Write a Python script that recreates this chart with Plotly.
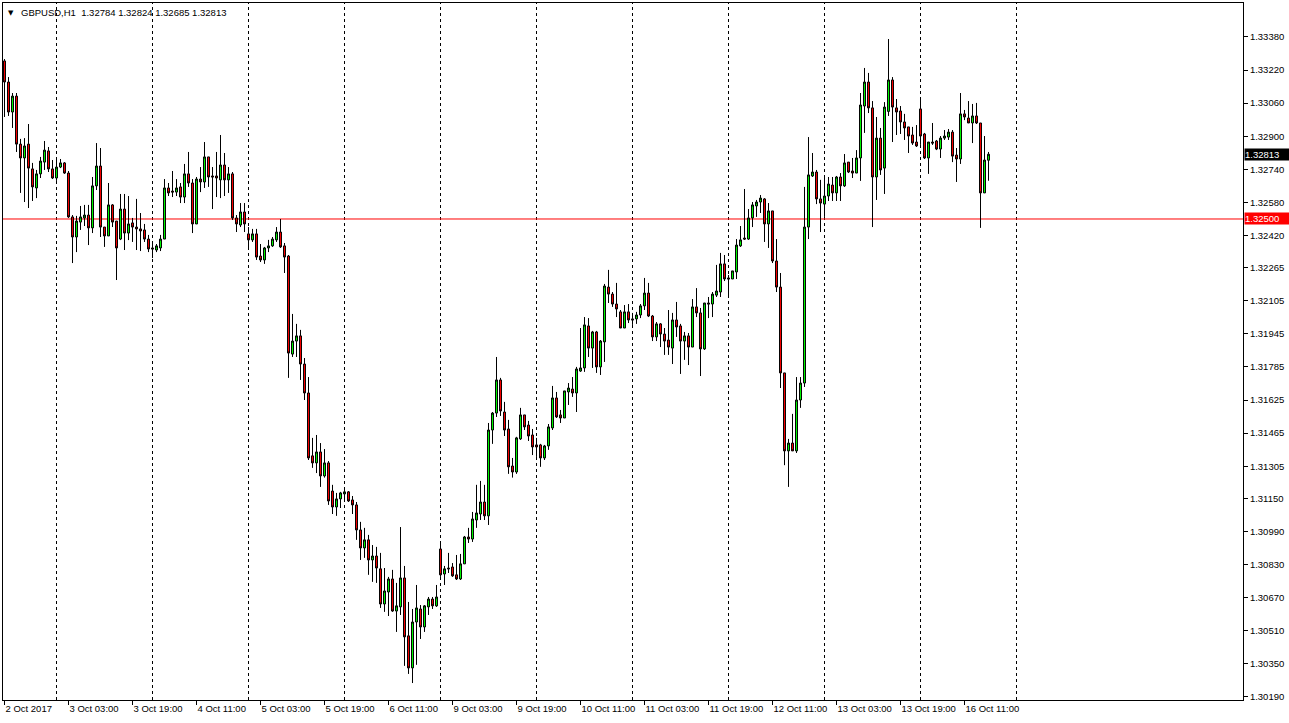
import plotly.graph_objects as go

# ---------------- data (GBPUSD H1, 2 Oct 2017 11:00 .. 16 Oct 2017 17:00) ----------------
days = ["2 Oct", "3 Oct", "4 Oct", "5 Oct", "6 Oct", "9 Oct", "10 Oct",
        "11 Oct", "12 Oct", "13 Oct", "16 Oct", "17 Oct"]
first_hour = 11

opens = [
    1.33264, 1.33162, 1.33017, 1.33094, 1.32862, 1.32795, 1.32862, 1.32742, 1.32650, 1.32718,
    1.32775, 1.32829, 1.32742, 1.32698, 1.32751, 1.32771, 1.32722, 1.32510, 1.32413, 1.32485,
    1.32505, 1.32519, 1.32457, 1.32660, 1.32756, 1.32461, 1.32418, 1.32568, 1.32490, 1.32403,
    1.32548, 1.32432, 1.32481, 1.32461, 1.32452, 1.32447, 1.32403, 1.32360, 1.32350, 1.32360,
    1.32403, 1.32650, 1.32635, 1.32630, 1.32655, 1.32606, 1.32718, 1.32674, 1.32476, 1.32693,
    1.32679, 1.32800, 1.32708, 1.32708, 1.32689, 1.32761, 1.32689, 1.32718, 1.32505, 1.32471,
    1.32534, 1.32428, 1.32399, 1.32428, 1.32321, 1.32302, 1.32360, 1.32370, 1.32399, 1.32437,
    1.32370, 1.32321, 1.31847, 1.31910, 1.31935, 1.31799, 1.31659, 1.31355, 1.31321, 1.31374,
    1.31258, 1.31321, 1.31185, 1.31108, 1.31147, 1.31171, 1.31181, 1.31142, 1.31118, 1.30997,
    1.30910, 1.30949, 1.30852, 1.30871, 1.30809, 1.30639, 1.30697, 1.30760, 1.30605, 1.30625,
    1.30765, 1.30485, 1.30330, 1.30552, 1.30615, 1.30528, 1.30625, 1.30663, 1.30630, 1.30905,
    1.30784, 1.30813, 1.30818, 1.30780, 1.30760, 1.30833, 1.30963, 1.30953, 1.31045, 1.31074,
    1.31132, 1.31065, 1.31480, 1.31562, 1.31722, 1.31567, 1.31485, 1.31306, 1.31277, 1.31437,
    1.31553, 1.31504, 1.31456, 1.31408, 1.31408, 1.31345, 1.31403, 1.31490, 1.31635, 1.31553,
    1.31538, 1.31664, 1.31678, 1.31659, 1.31765, 1.31780, 1.31983, 1.31876, 1.31954, 1.31785,
    1.31906, 1.32171, 1.32137, 1.32089, 1.32051, 1.31973, 1.32051, 1.32017, 1.32017, 1.32036,
    1.32080, 1.32142, 1.32031, 1.31930, 1.31993, 1.31944, 1.31915, 1.31876, 1.32012, 1.31983,
    1.31910, 1.31935, 1.31881, 1.32075, 1.32046, 1.31872, 1.32094, 1.32089, 1.32132, 1.32147,
    1.32283, 1.32215, 1.32210, 1.32244, 1.32370, 1.32408, 1.32403, 1.32505, 1.32563, 1.32582,
    1.32597, 1.32476, 1.32539, 1.32297, 1.32171, 1.31756, 1.31379, 1.31417, 1.31379, 1.31625,
    1.31707, 1.32461, 1.32708, 1.32727, 1.32597, 1.32572, 1.32611, 1.32664, 1.32626, 1.32703,
    1.32660, 1.32775, 1.32732, 1.32722, 1.32795, 1.33046, 1.33162, 1.33037, 1.32703, 1.32891,
    1.32746, 1.33020, 1.33172, 1.33037, 1.33022, 1.32969, 1.32945, 1.32906, 1.32872, 1.33032,
    1.32911, 1.32795, 1.32872, 1.32877, 1.32838, 1.32891, 1.32896, 1.32920, 1.32809, 1.32790,
    1.33008, 1.32988, 1.32964, 1.32998, 1.32964, 1.32626, 1.32784,
]
highs = [
    1.33273, 1.33186, 1.33109, 1.33109, 1.32887, 1.32891, 1.32959, 1.32771, 1.32737, 1.32800,
    1.32877, 1.32848, 1.32785, 1.32795, 1.32790, 1.32775, 1.32732, 1.32519, 1.32515, 1.32563,
    1.32568, 1.32568, 1.32703, 1.32867, 1.32843, 1.32461, 1.32674, 1.32572, 1.32490, 1.32621,
    1.32621, 1.32611, 1.32505, 1.32597, 1.32529, 1.32476, 1.32423, 1.32379, 1.32379, 1.32423,
    1.32693, 1.32674, 1.32732, 1.32693, 1.32674, 1.32766, 1.32824, 1.32693, 1.32703, 1.32751,
    1.32872, 1.32800, 1.32751, 1.32824, 1.32906, 1.32819, 1.32751, 1.32727, 1.32519, 1.32577,
    1.32577, 1.32461, 1.32452, 1.32452, 1.32379, 1.32365, 1.32399, 1.32413, 1.32461, 1.32500,
    1.32384, 1.32326, 1.32041, 1.31993, 1.31964, 1.31828, 1.31736, 1.31442, 1.31456, 1.31417,
    1.31388, 1.31330, 1.31215, 1.31176, 1.31181, 1.31200, 1.31185, 1.31161, 1.31132, 1.31036,
    1.31007, 1.30973, 1.30924, 1.30915, 1.30886, 1.30813, 1.30770, 1.30804, 1.30741, 1.31011,
    1.30823, 1.30649, 1.30615, 1.30731, 1.30634, 1.30634, 1.30673, 1.30673, 1.30731, 1.30934,
    1.30823, 1.30886, 1.30837, 1.30876, 1.30881, 1.30968, 1.31007, 1.31084, 1.31215, 1.31234,
    1.31215, 1.31514, 1.31567, 1.31833, 1.31732, 1.31616, 1.31529, 1.31345, 1.31447, 1.31587,
    1.31553, 1.31524, 1.31485, 1.31442, 1.31413, 1.31408, 1.31509, 1.31693, 1.31664, 1.31577,
    1.31669, 1.31707, 1.31736, 1.31785, 1.31973, 1.32026, 1.32021, 1.31959, 1.31959, 1.31915,
    1.32186, 1.32254, 1.32147, 1.32191, 1.32060, 1.32084, 1.32089, 1.32046, 1.32051, 1.32089,
    1.32215, 1.32191, 1.32036, 1.32002, 1.31997, 1.31973, 1.32060, 1.32046, 1.32099, 1.31993,
    1.31954, 1.31949, 1.32113, 1.32166, 1.32070, 1.32094, 1.32123, 1.32147, 1.32278, 1.32336,
    1.32326, 1.32229, 1.32249, 1.32403, 1.32466, 1.32645, 1.32548, 1.32582, 1.32592, 1.32616,
    1.32601, 1.32577, 1.32539, 1.32403, 1.32239, 1.31756, 1.31437, 1.31558, 1.31736, 1.31736,
    1.32655, 1.32896, 1.32819, 1.32737, 1.32689, 1.32703, 1.32703, 1.32703, 1.32708, 1.32722,
    1.32814, 1.32775, 1.32795, 1.32833, 1.33109, 1.33230, 1.33206, 1.33070, 1.32993, 1.32940,
    1.33065, 1.33370, 1.33186, 1.33080, 1.33046, 1.33008, 1.32945, 1.32945, 1.32954, 1.33075,
    1.32916, 1.32872, 1.32964, 1.32882, 1.32901, 1.32930, 1.32935, 1.32930, 1.32843, 1.33109,
    1.33027, 1.33070, 1.33056, 1.33061, 1.32964, 1.32901, 1.32824,
]
lows = [
    1.32993, 1.32998, 1.32940, 1.32824, 1.32626, 1.32582, 1.32553, 1.32587, 1.32601, 1.32698,
    1.32737, 1.32727, 1.32693, 1.32684, 1.32746, 1.32718, 1.32505, 1.32287, 1.32340, 1.32447,
    1.32466, 1.32374, 1.32432, 1.32640, 1.32413, 1.32365, 1.32418, 1.32461, 1.32205, 1.32398,
    1.32350, 1.32398, 1.32389, 1.32350, 1.32345, 1.32389, 1.32340, 1.32311, 1.32340, 1.32345,
    1.32403, 1.32611, 1.32606, 1.32611, 1.32577, 1.32577, 1.32655, 1.32432, 1.32476, 1.32630,
    1.32650, 1.32655, 1.32548, 1.32606, 1.32601, 1.32611, 1.32626, 1.32495, 1.32437, 1.32461,
    1.32437, 1.32360, 1.32389, 1.32302, 1.32292, 1.32283, 1.32340, 1.32365, 1.32389, 1.32360,
    1.32239, 1.31732, 1.31833, 1.31833, 1.31722, 1.31625, 1.31335, 1.31297, 1.31272, 1.31205,
    1.31250, 1.31118, 1.31074, 1.31065, 1.31103, 1.31142, 1.31132, 1.31074, 1.30949, 1.30852,
    1.30862, 1.30780, 1.30746, 1.30741, 1.30620, 1.30601, 1.30581, 1.30601, 1.30504, 1.30586,
    1.30340, 1.30301, 1.30257, 1.30345, 1.30470, 1.30504, 1.30586, 1.30615, 1.30625, 1.30770,
    1.30731, 1.30789, 1.30770, 1.30755, 1.30755, 1.30833, 1.30934, 1.30939, 1.31007, 1.31045,
    1.31045, 1.31021, 1.31413, 1.31543, 1.31548, 1.31451, 1.31268, 1.31250, 1.31268, 1.31432,
    1.31480, 1.31427, 1.31359, 1.31350, 1.31302, 1.31335, 1.31384, 1.31480, 1.31538, 1.31514,
    1.31538, 1.31601, 1.31640, 1.31567, 1.31761, 1.31761, 1.31833, 1.31780, 1.31756, 1.31746,
    1.31809, 1.32094, 1.32075, 1.32026, 1.31973, 1.31973, 1.31997, 1.31988, 1.31993, 1.32021,
    1.32060, 1.32026, 1.31910, 1.31910, 1.31881, 1.31843, 1.31843, 1.31799, 1.31930, 1.31751,
    1.31819, 1.31794, 1.31881, 1.32026, 1.31741, 1.31867, 1.32021, 1.32026, 1.32123, 1.32123,
    1.32200, 1.32132, 1.32210, 1.32210, 1.32365, 1.32399, 1.32399, 1.32461, 1.32510, 1.32529,
    1.32389, 1.32360, 1.32287, 1.32147, 1.31683, 1.31310, 1.31205, 1.31379, 1.31369, 1.31587,
    1.31688, 1.32403, 1.32703, 1.32572, 1.32437, 1.32510, 1.32587, 1.32587, 1.32587, 1.32587,
    1.32655, 1.32722, 1.32698, 1.32722, 1.32684, 1.32916, 1.33012, 1.32461, 1.32592, 1.32713,
    1.32621, 1.32998, 1.32872, 1.32906, 1.32911, 1.32882, 1.32819, 1.32858, 1.32848, 1.32858,
    1.32790, 1.32718, 1.32858, 1.32833, 1.32795, 1.32882, 1.32882, 1.32775, 1.32679, 1.32766,
    1.32978, 1.32964, 1.32867, 1.32959, 1.32457, 1.32626, 1.32685,
]
closes = [
    1.33162, 1.33017, 1.33094, 1.32862, 1.32795, 1.32853, 1.32746, 1.32655, 1.32718, 1.32780,
    1.32833, 1.32742, 1.32698, 1.32751, 1.32771, 1.32722, 1.32510, 1.32413, 1.32490, 1.32510,
    1.32519, 1.32457, 1.32660, 1.32756, 1.32461, 1.32418, 1.32568, 1.32485, 1.32360, 1.32548,
    1.32432, 1.32476, 1.32461, 1.32452, 1.32442, 1.32403, 1.32355, 1.32355, 1.32370, 1.32403,
    1.32650, 1.32626, 1.32630, 1.32650, 1.32606, 1.32718, 1.32674, 1.32476, 1.32693, 1.32679,
    1.32800, 1.32703, 1.32703, 1.32698, 1.32761, 1.32689, 1.32718, 1.32505, 1.32476, 1.32534,
    1.32476, 1.32399, 1.32428, 1.32316, 1.32302, 1.32360, 1.32370, 1.32403, 1.32437, 1.32365,
    1.32316, 1.31852, 1.31910, 1.31935, 1.31799, 1.31659, 1.31345, 1.31321, 1.31374, 1.31258,
    1.31321, 1.31137, 1.31108, 1.31147, 1.31176, 1.31181, 1.31137, 1.31118, 1.30997, 1.30910,
    1.30949, 1.30852, 1.30871, 1.30813, 1.30639, 1.30702, 1.30760, 1.30605, 1.30630, 1.30765,
    1.30480, 1.30330, 1.30552, 1.30620, 1.30528, 1.30630, 1.30663, 1.30630, 1.30673, 1.30780,
    1.30809, 1.30809, 1.30775, 1.30760, 1.30833, 1.30963, 1.30953, 1.31050, 1.31079, 1.31132,
    1.31065, 1.31480, 1.31562, 1.31722, 1.31572, 1.31480, 1.31302, 1.31277, 1.31442, 1.31553,
    1.31495, 1.31451, 1.31398, 1.31398, 1.31345, 1.31403, 1.31495, 1.31635, 1.31543, 1.31538,
    1.31669, 1.31683, 1.31659, 1.31775, 1.31780, 1.31988, 1.31876, 1.31954, 1.31785, 1.31910,
    1.32176, 1.32137, 1.32089, 1.32065, 1.31973, 1.32051, 1.32012, 1.32012, 1.32036, 1.32080,
    1.32142, 1.32031, 1.31930, 1.31993, 1.31944, 1.31910, 1.31881, 1.32012, 1.31978, 1.31910,
    1.31935, 1.31881, 1.32075, 1.32046, 1.31872, 1.32094, 1.32089, 1.32137, 1.32152, 1.32283,
    1.32210, 1.32210, 1.32249, 1.32374, 1.32399, 1.32403, 1.32505, 1.32568, 1.32582, 1.32601,
    1.32476, 1.32539, 1.32297, 1.32171, 1.31756, 1.31379, 1.31417, 1.31379, 1.31625, 1.31707,
    1.32461, 1.32713, 1.32727, 1.32597, 1.32577, 1.32611, 1.32669, 1.32626, 1.32703, 1.32660,
    1.32771, 1.32727, 1.32722, 1.32795, 1.33051, 1.33162, 1.33037, 1.32703, 1.32891, 1.32737,
    1.33041, 1.33172, 1.33041, 1.33017, 1.32969, 1.32940, 1.32901, 1.32867, 1.32853, 1.32901,
    1.32795, 1.32872, 1.32867, 1.32838, 1.32891, 1.32901, 1.32920, 1.32804, 1.32790, 1.33008,
    1.32993, 1.32964, 1.32998, 1.32964, 1.32626, 1.32785, 1.32813,
]

price_ticks = [1.33380, 1.33220, 1.33060, 1.32900, 1.32740, 1.32580, 1.32420, 1.32265,
               1.32105, 1.31945, 1.31785, 1.31625, 1.31465, 1.31305, 1.31150, 1.30990,
               1.30830, 1.30670, 1.30510, 1.30350, 1.30190]
hline_level = 1.32500
symbol_title = "GBPUSD,H1"
first_label = "2 Oct 2017"
label_every = 16

# ---------------- bar timeline ----------------
n = len(opens)
times = []
d, h = 0, first_hour
for i in range(n + 24):
    times.append((days[d], h))
    h += 1
    if h == 24:
        h = 0
        d += 1
idx = list(range(n))

separators = [i for i in range(1, n + 24) if times[i][1] == 0]
separators = [s for s in separators if s <= n + 10]

tick_idx = list(range(0, n, label_every))
tick_txt = [first_label if i == 0 else f"{times[i][0]} {times[i][1]:02d}:00" for i in tick_idx]

FONT = "Liberation Sans, Arial, sans-serif"

fig = go.Figure()
fig.add_trace(go.Candlestick(
    x=idx, open=opens, high=highs, low=lows, close=closes,
    increasing=dict(line=dict(color="black", width=1), fillcolor="#00FF00"),
    decreasing=dict(line=dict(color="black", width=1), fillcolor="#FF0000"),
    whiskerwidth=0, hoverinfo="skip", showlegend=False,
))

shapes = []
for s in separators:
    shapes.append(dict(type="line", xref="x", yref="paper", x0=s, x1=s, y0=0, y1=1,
                       line=dict(color="black", width=1, dash="3px,3px"), layer="below"))
shapes.append(dict(type="line", xref="paper", yref="y", x0=0, x1=1, y0=hline_level, y1=hline_level,
                   line=dict(color="#FF0000", width=1), layer="below"))

last = opens[-1], highs[-1], lows[-1], closes[-1]
annotations = [
    dict(xref="paper", yref="paper", x=0, y=1, xanchor="left", yanchor="top",
         xshift=3, yshift=-4, text="▼", showarrow=False,
         font=dict(family="DejaVu Sans", size=7, color="black")),
    dict(xref="paper", yref="paper", x=0, y=1, xanchor="left", yanchor="top",
         xshift=16, yshift=-2,
         text=f"{symbol_title}  {last[0]:.5f} {last[1]:.5f} {last[2]:.5f} {last[3]:.5f}",
         showarrow=False, font=dict(family=FONT, size=9.5, color="black")),
    dict(xref="paper", yref="y", x=1, y=closes[-1], xanchor="left", yanchor="middle",
         xshift=1, text=f"{closes[-1]:.5f}", showarrow=False, bgcolor="black",
         width=44, height=11, align="left", borderpad=0,
         font=dict(family=FONT, size=9.5, color="white")),
    dict(xref="paper", yref="y", x=1, y=hline_level, xanchor="left", yanchor="middle",
         xshift=1, text=f"{hline_level:.5f}", showarrow=False, bgcolor="#FF0000",
         width=44, height=11, align="left", borderpad=0,
         font=dict(family=FONT, size=9.5, color="white")),
]

fig.update_layout(
    width=1289, height=723,
    margin=dict(l=3, r=46, t=3, b=23),
    paper_bgcolor="white", plot_bgcolor="white",
    shapes=shapes, annotations=annotations,
    font=dict(family=FONT, size=9.5, color="black"),
    xaxis=dict(
        range=[-0.375, 309.625], rangeslider=dict(visible=False),
        tickmode="array", tickvals=tick_idx, ticktext=tick_txt,
        ticks="outside", ticklen=4, tickcolor="black", ticklabelposition="outside right",
        showgrid=False, zeroline=False, showline=True, linecolor="black", linewidth=1, mirror=True,
        tickfont=dict(family=FONT, size=9.5, color="black"),
    ),
    yaxis=dict(
        side="right", range=[1.30175, 1.33544],
        tickmode="array", tickvals=price_ticks, ticktext=[f"{v:.5f}" for v in price_ticks],
        ticks="outside", ticklen=4, tickcolor="black",
        showgrid=False, zeroline=False, showline=True, linecolor="black", linewidth=1, mirror=True,
        tickfont=dict(family=FONT, size=9.5, color="black"),
    ),
)

fig.write_html("out.html", config={"displayModeBar": False},
               post_script="document.body.style.margin='0px';document.body.style.overflow='hidden';")
